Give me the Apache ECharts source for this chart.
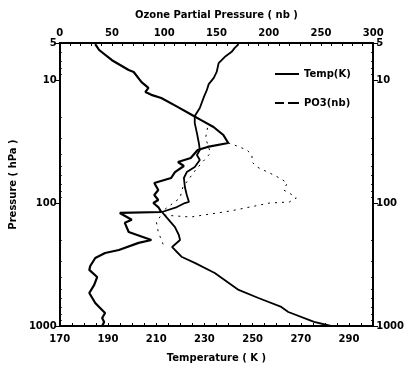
<!DOCTYPE html>
<html>
<head>
<meta charset="utf-8">
<script src="https://cdn.jsdelivr.net/npm/echarts@6/dist/echarts.min.js"></script>
<style>
  html, body { margin: 0; padding: 0; background: #fff; }
  #ozoneChart { width: 407px; height: 368px; }
</style>
</head>
<body>
<div id="ozoneChart"></div>
<script>
// 温度廓线 (K) 与气压 (hPa)
var tempK = [244.2, 242.5, 241.3, 238.4, 235.9, 235.1, 233.9, 231.8, 231.0, 229.8, 228.1, 226.0,
    226.0, 226.9, 227.7, 228.1, 226.9, 228.1, 226.0, 222.7, 221.5, 221.9, 222.7, 223.6, 221.9,
    218.6, 212.4, 214.5, 217.8, 219.4, 219.9, 216.6, 217.8, 220.7, 226.0, 234.3, 244.2, 252.4,
    261.9, 264.8, 275.5, 282.5];
var tempP = [5.1, 5.5, 5.9, 6.5, 7.3, 8.6, 9.6, 10.8, 12.1, 13.7, 16.9, 19.6,
    22.4, 27.0, 32.5, 37.1, 40.7, 44.7, 50.9, 56, 62.6, 74.1, 86.1, 98.1, 100,
    107.8, 118.3, 132, 157, 182, 200, 228, 241, 275, 307, 371, 509, 592,
    700, 769, 927, 1000];

// 臭氧分压 (nb)
var ozoneNb = [34, 37.7, 50, 66, 70.8, 78.3, 84.9, 82, 87.7, 97.2, 113.2, 128.3, 134.9, 147.2,
    156.6, 161.3, 141.5, 132, 125.4, 113.2, 118.8, 110.3, 106.6, 90.5, 94.3, 90.5, 94.3, 89.6,
    94.3, 97.2, 57.5, 68.9, 62.3, 66.0, 87.7, 75.5, 56.6, 43.4, 34.0, 29.2, 28.3, 35.8, 33.0,
    28.3, 34.0, 37.7, 43.4, 40.6, 42.5, 40.6];
var ozoneP = [5.1, 5.7, 6.9, 8.3, 8.6, 10.4, 11.6, 12.5, 13.2, 14.0, 16.6, 19.6, 21.1, 24.1,
    28.0, 32.5, 35.0, 37.1, 43.0, 46.4, 50.0, 56, 62.6, 68.8, 78.4, 86.1, 94.5, 100,
    107.8, 118.3, 120.5, 137, 145, 172, 200, 211, 241, 255, 280, 325, 350, 400, 463,
    539, 650, 700, 784, 861, 927, 1000];

// 虚线 (nb)
var dotNb1 = [141.5, 139.6, 144.3, 130, 117.9, 115.1, 97.2];
var dotP1 = [24.5, 29.6, 39.2, 53.9, 74.1, 91.0, 118.3];
var dotNb2 = [161.3, 169.8, 179.2, 184, 184, 188.7, 200.9, 210.4, 217.9, 214.2, 219.8, 226.4,
    219.8, 200.9, 182.1, 163.2, 144.3, 125.5, 97.2, 92.5, 94.3, 100];
var dotP2 = [32.5, 34.4, 37.1, 40.7, 46.4, 50.9, 57, 62.6, 68.8, 78.4, 82.9, 91,
    98.1, 100, 107.8, 116.1, 122.8, 130, 125, 143, 172, 228];

// 刻度
var tempLabels = [170, 190, 210, 230, 250, 270, 290];
var ozoneLabels = [0, 50, 100, 150, 200, 250, 300];
var pressLabels = [5, 10, 100, 1000];
var pressMinor = [6, 7, 8, 9, 20, 30, 40, 50, 60, 70, 80, 90, 200, 300, 400, 500, 600, 700, 800, 900];

function pairs(xs, ys) {
    var out = [];
    for (var i = 0; i < xs.length; i++) out.push([xs[i], ys[i]]);
    return out;
}
function steps(a, b, s) {
    var out = [];
    for (var v = a; v <= b; v += s) out.push(v);
    return out;
}

var myChart = echarts.init(document.getElementById('ozoneChart'));
var font = 'DejaVu Sans';
var labelStyle = { color: '#000', fontFamily: font, fontWeight: 'bold', fontSize: 10 };

var option = {
    animation: false,
    backgroundColor: '#fff',
    grid: { left: 57, right: 32, top: 43, bottom: 40 },
    legend: {
        orient: 'vertical',
        left: 270,
        top: 64,
        itemGap: 19,
        itemWidth: 24,
        itemHeight: 2,
        textStyle: labelStyle,
        data: [
            { name: 'Temp(K)', icon: 'rect' },
            { name: 'PO3(nb)', icon: 'path://M0,0h9v2h-9z M13,0h11v2h-11z' }
        ]
    },
    xAxis: [
        {
            type: 'value',
            position: 'bottom',
            min: 170,
            max: 300,
            name: 'Temperature ( K )',
            nameLocation: 'middle',
            nameGap: 27,
            nameTextStyle: labelStyle,
            splitLine: { show: false },
            axisLine: { lineStyle: { color: '#000', width: 2 } },
            axisTick: { inside: true, length: 3, customValues: steps(170, 300, 5), lineStyle: { color: '#000' } },
            axisLabel: { customValues: tempLabels, margin: 8, textStyle: labelStyle }
        },
        {
            type: 'value',
            position: 'top',
            min: 0,
            max: 300,
            name: 'Ozone Partial Pressure ( nb )',
            nameLocation: 'middle',
            nameGap: 23,
            nameTextStyle: labelStyle,
            splitLine: { show: false },
            axisLine: { lineStyle: { color: '#000', width: 2 } },
            axisTick: { inside: true, length: 3, customValues: steps(0, 300, 10), lineStyle: { color: '#000' } },
            axisLabel: { customValues: ozoneLabels, margin: 5, textStyle: labelStyle }
        }
    ],
    yAxis: [
        {
            type: 'log',
            position: 'left',
            inverse: true,
            min: 5,
            max: 1000,
            name: 'Pressure ( hPa )',
            nameLocation: 'middle',
            nameGap: 40,
            nameRotate: 90,
            nameTextStyle: labelStyle,
            splitLine: { show: false },
            axisLine: { lineStyle: { color: '#000', width: 2 } },
            axisTick: { length: 5, customValues: pressLabels, lineStyle: { color: '#000' } },
            axisLabel: { customValues: pressLabels, margin: 3, formatter: function (v) { return String(v); }, textStyle: labelStyle }
        },
        {
            type: 'log',
            position: 'right',
            inverse: true,
            min: 5,
            max: 1000,
            splitLine: { show: false },
            axisLine: { lineStyle: { color: '#000', width: 2 } },
            axisTick: { length: 5, customValues: pressLabels, lineStyle: { color: '#000' } },
            axisLabel: { customValues: pressLabels, margin: 3, formatter: function (v) { return String(v); }, textStyle: labelStyle }
        },
        {
            type: 'log',
            position: 'left',
            inverse: true,
            min: 5,
            max: 1000,
            splitLine: { show: false },
            axisLine: { show: false },
            axisTick: { inside: true, length: 2, customValues: pressMinor, lineStyle: { color: '#000' } },
            axisLabel: { show: false }
        },
        {
            type: 'log',
            position: 'right',
            inverse: true,
            min: 5,
            max: 1000,
            splitLine: { show: false },
            axisLine: { show: false },
            axisTick: { inside: true, length: 2, customValues: pressMinor, lineStyle: { color: '#000' } },
            axisLabel: { show: false }
        }
    ],
    series: [
        {
            name: 'Temp(K)',
            type: 'line',
            xAxisIndex: 0,
            yAxisIndex: 0,
            symbol: 'none',
            itemStyle: { color: '#000' },
            lineStyle: { color: '#000', width: 1.8 },
            data: pairs(tempK, tempP)
        },
        {
            name: 'PO3(nb)',
            type: 'line',
            xAxisIndex: 1,
            yAxisIndex: 0,
            symbol: 'none',
            itemStyle: { color: '#000' },
            lineStyle: { color: '#000', width: 2.2 },
            data: pairs(ozoneNb, ozoneP)
        },
        {
            name: 'dot1',
            type: 'line',
            xAxisIndex: 1,
            yAxisIndex: 0,
            symbol: 'none',
            lineStyle: { color: '#000', width: 1, type: [2, 5] },
            data: pairs(dotNb1, dotP1)
        },
        {
            name: 'dot2',
            type: 'line',
            xAxisIndex: 1,
            yAxisIndex: 0,
            symbol: 'none',
            lineStyle: { color: '#000', width: 1, type: [2, 5] },
            data: pairs(dotNb2, dotP2)
        }
    ]
};
myChart.setOption(option);
</script>
</body>
</html>
